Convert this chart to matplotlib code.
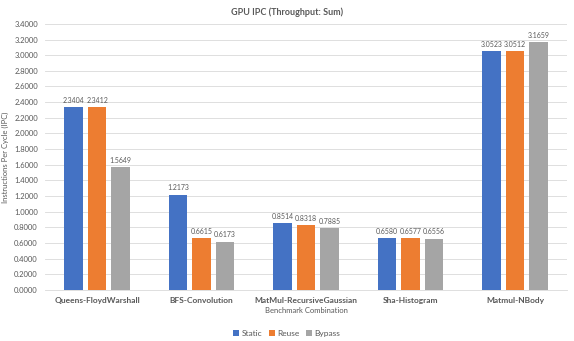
import matplotlib.pyplot as plt
import numpy as np

plt.rcParams['font.family'] = ['Lato', 'DejaVu Sans']

categories = ['Queens-FloydWarshall', 'BFS-Convolution', 'MatMul-RecursiveGaussian',
              'Sha-Histogram', 'Matmul-NBody']
static = [2.3404, 1.2173, 0.8514, 0.6580, 3.0523]
reuse = [2.3412, 0.6615, 0.8318, 0.6577, 3.0512]
bypass = [1.5649, 0.6173, 0.7885, 0.6556, 3.1659]
series_names = ['Static', 'Reuse', 'Bypass']
colors = ['#4472C4', '#ED7D31', '#A5A5A5']
txt = '#595959'

fig = plt.figure(figsize=(5.74, 3.41), dpi=100)
ax = fig.add_axes([0.078, 0.150, 0.910, 0.780])

x = np.arange(len(categories))
w = 0.175
step = 0.225
for i, (vals, name, c) in enumerate(zip([static, reuse, bypass], series_names, colors)):
    pos = x + (i - 1) * step
    ax.bar(pos, vals, width=w, color=c, label=name, zorder=3)
    for xp, v in zip(pos, vals):
        ax.text(xp, v + 0.04, '%.4f' % v, ha='center', va='bottom', fontsize=5, color=txt)

ax.set_xlim(-0.5, len(categories) - 0.5)
ax.set_ylim(0, 3.4)
ax.set_yticks(np.arange(0, 3.41, 0.2))
ax.set_yticklabels(['%.4f' % t for t in np.arange(0, 3.41, 0.2)], fontsize=5.5, color=txt)
ax.set_xticks(x)
ax.set_xticklabels(categories, fontsize=6, fontweight='bold', color=txt)
ax.tick_params(length=0, pad=5)
ax.grid(axis='y', color='#D9D9D9', linewidth=0.6, zorder=0)
for s in ['top', 'right', 'left']:
    ax.spines[s].set_visible(False)
ax.spines['bottom'].set_color('#D9D9D9')
ax.spines['bottom'].set_linewidth(0.6)

ax.set_xlabel('Benchmark Combination', fontsize=5.5, color=txt, labelpad=2)
ax.set_ylabel('Instructions Per Cycle (IPC)', fontsize=5.5, color=txt, labelpad=4)
fig.text(0.5, 0.965, 'GPU IPC (Throughput: Sum)', ha='center', va='center',
         fontsize=6.5, fontweight='bold', color=txt)

fig.legend(loc='center', bbox_to_anchor=(0.5, 0.022), ncol=3, frameon=False,
           fontsize=6, handlelength=0.7, handleheight=0.7, handletextpad=0.3,
           columnspacing=0.8, labelcolor=txt)

fig.savefig('out.png', dpi=100)
